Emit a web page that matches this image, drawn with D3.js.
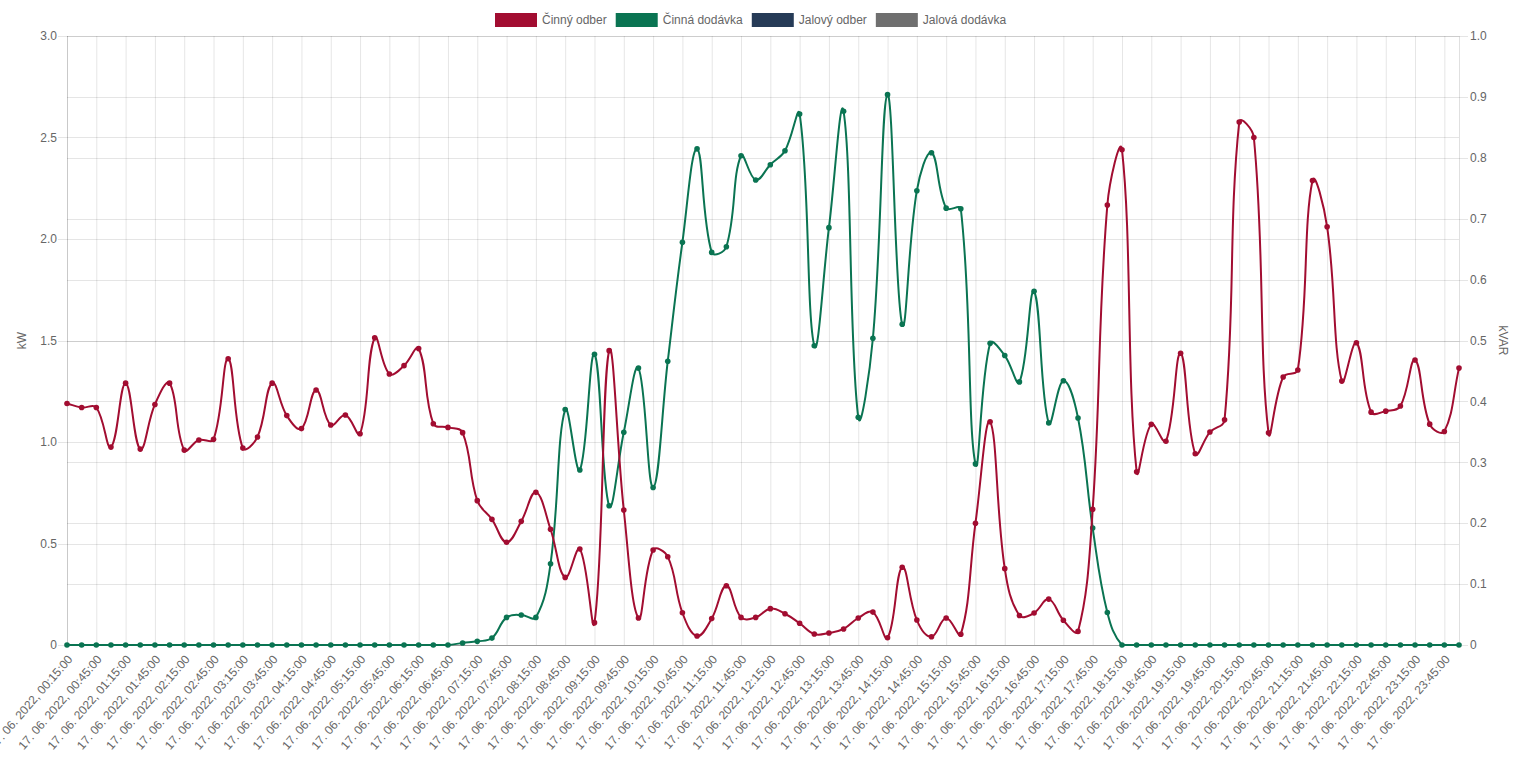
<!DOCTYPE html>
<html><head><meta charset="utf-8">
<script src="https://cdn.jsdelivr.net/npm/d3@7"></script>
<style>
html,body{margin:0;padding:0;background:#fff;}
svg{display:block;font-family:"Liberation Sans",Arial,Helvetica,sans-serif;}
</style></head>
<body>
<svg id="chart" width="1514" height="763"></svg>
<script>
// ---------- data ----------
const datePrefix = "17. 06. 2022, ";
const times = ["00:15","00:30","00:45","01:00","01:15","01:30","01:45","02:00","02:15","02:30","02:45","03:00",
"03:15","03:30","03:45","04:00","04:15","04:30","04:45","05:00","05:15","05:30","05:45","06:00",
"06:15","06:30","06:45","07:00","07:15","07:30","07:45","08:00","08:15","08:30","08:45","09:00",
"09:15","09:30","09:45","10:00","10:15","10:30","10:45","11:00","11:15","11:30","11:45","12:00",
"12:15","12:30","12:45","13:00","13:15","13:30","13:45","14:00","14:15","14:30","14:45","15:00",
"15:15","15:30","15:45","16:00","16:15","16:30","16:45","17:00","17:15","17:30","17:45","18:00",
"18:15","18:30","18:45","19:00","19:15","19:30","19:45","20:00","20:15","20:30","20:45","21:00",
"21:15","21:30","21:45","22:00","22:15","22:30","22:45","23:00","23:15","23:30","23:45","24:00"];

const cinnyOdber = [1.19,1.17,1.17,0.975,1.29,0.965,1.185,1.29,0.96,1.01,
1.013,1.41,0.97,1.025,1.29,1.13,1.066,1.256,1.084,1.133,
1.041,1.513,1.335,1.376,1.46,1.09,1.072,1.046,0.711,0.619,
0.506,0.609,0.752,0.57,0.333,0.473,0.11,1.45,0.665,0.133,
0.468,0.435,0.159,0.044,0.13,0.292,0.136,0.136,0.179,0.154,
0.107,0.054,0.059,0.079,0.133,0.162,0.036,0.383,0.123,0.041,
0.133,0.053,0.6,1.10,0.376,0.145,0.158,0.226,0.122,0.067,
0.669,2.167,2.44,0.853,1.087,1.004,1.437,0.942,1.049,1.109,
2.576,2.5,1.045,1.32,1.355,2.288,2.06,1.30,1.489,1.147,
1.152,1.177,1.404,1.088,1.052,1.364];

const cinnaDodavka = [0,0,0,0,0,0,0,0,0,0,
0,0,0,0,0,0,0,0,0,0,
0,0,0,0,0,0,0,0.01,0.018,0.034,
0.136,0.148,0.136,0.40,1.16,0.862,1.432,0.686,1.048,1.364,
0.776,1.398,1.984,2.444,1.934,1.962,2.41,2.291,2.366,2.435,
2.616,1.474,2.056,2.629,1.122,1.511,2.711,1.58,2.238,2.425,
2.152,2.149,0.892,1.486,1.426,1.296,1.742,1.094,1.302,1.118,
0.576,0.16,0,0,0,0,0,0,0,0,
0,0,0,0,0,0,0,0,0,0,
0,0,0,0,0,0];

const jalovyOdber = [];
const jalovaDodavka = [];

const seriesNames = ["Činný odber","Činná dodávka","Jalový odber","Jalová dodávka"];
const seriesColors = ["#a20d31","#0a7452","#263b57","#6f6f6f"];
const leftTicks = [0,0.5,1.0,1.5,2.0,2.5,3.0];
const rightTicks = [0,0.1,0.2,0.3,0.4,0.5,0.6,0.7,0.8,0.9,1.0];
const leftTitle = "kW", rightTitle = "kVAR";

// ---------- layout ----------
const area = {left:67, right:1459, top:36, bottom:645};
const svg = d3.select("#chart");
const txt = "#666";

const x = d3.scalePoint().domain(times).range([area.left, area.right]);
const yL = d3.scaleLinear().domain([0,3]).range([area.bottom, area.top]);
const yR = d3.scaleLinear().domain([0,1]).range([area.bottom, area.top]);
const fmt = v => v === 0 ? "0" : d3.format(".1f")(v);

const shownTimes = times.filter((t,i) => i % 2 === 0);

// grid: vertical
const grid = svg.append("g");
grid.selectAll("line.v").data(shownTimes).join("line")
  .attr("x1", d => x(d)+0.5).attr("x2", d => x(d)+0.5)
  .attr("y1", area.top).attr("y2", area.bottom)
  .attr("stroke","rgba(0,0,0,0.1)");
// right border
grid.append("line").attr("x1",area.right+0.5).attr("x2",area.right+0.5)
  .attr("y1",area.top).attr("y2",area.bottom).attr("stroke","rgba(0,0,0,0.12)");
// left axis gridlines (with ticks)
grid.selectAll("line.l").data(leftTicks).join("line")
  .attr("x1", area.left-9).attr("x2", area.right)
  .attr("y1", d => Math.round(yL(d))+0.5).attr("y2", d => Math.round(yL(d))+0.5)
  .attr("stroke","rgba(0,0,0,0.1)");
// right axis gridlines (with ticks)
grid.selectAll("line.r").data(rightTicks).join("line")
  .attr("x1", area.left).attr("x2", area.right+9)
  .attr("y1", d => Math.round(yR(d))+0.5).attr("y2", d => Math.round(yR(d))+0.5)
  .attr("stroke","rgba(0,0,0,0.1)");
// left border
grid.append("line").attr("x1",area.left+0.5).attr("x2",area.left+0.5)
  .attr("y1",area.top).attr("y2",area.bottom).attr("stroke","rgba(0,0,0,0.12)");
// bottom line
grid.append("line").attr("x1",area.left).attr("x2",area.right)
  .attr("y1",area.bottom+0.5).attr("y2",area.bottom+0.5).attr("stroke","rgba(0,0,0,0.25)");

// left tick labels
svg.append("g").selectAll("text").data(leftTicks).join("text")
  .attr("x", area.left-10).attr("y", d => yL(d)).attr("dy","0.35em")
  .attr("text-anchor","end").attr("font-size",12).attr("fill",txt).text(fmt);
// right tick labels
svg.append("g").selectAll("text").data(rightTicks).join("text")
  .attr("x", area.right+11).attr("y", d => yR(d)).attr("dy","0.35em")
  .attr("text-anchor","start").attr("font-size",12).attr("fill",txt).text(fmt);

// x labels
svg.append("g").selectAll("text").data(shownTimes).join("text")
  .attr("transform", d => `translate(${x(d)+3},${area.bottom+12}) rotate(-49)`)
  .attr("text-anchor","end").attr("dy","0.35em")
  .attr("font-size",12).attr("fill",txt).text(d => datePrefix + d + ":00");

// axis titles
svg.append("text").attr("transform",`translate(26,${(area.top+area.bottom)/2}) rotate(-90)`)
  .attr("text-anchor","middle").attr("font-size",12).attr("fill",txt).text(leftTitle);
svg.append("text").attr("transform",`translate(1499,${(area.top+area.bottom)/2}) rotate(90)`)
  .attr("text-anchor","middle").attr("font-size",12).attr("fill",txt).text(rightTitle);

// Chart.js-like spline curve (tension 0.4, control points capped to chart area)
function chartjsCurve(tension, a){
  return function(context){
    let pts;
    return {
      areaStart(){}, areaEnd(){},
      lineStart(){ pts = []; },
      point(px,py){ pts.push({x:+px,y:+py}); },
      lineEnd(){
        const n = pts.length; if(!n) return;
        const cl = (v,lo,hi) => Math.max(lo, Math.min(hi, v));
        const cps = pts.map((p,i) => {
          const pr = pts[Math.max(i-1,0)], nx = pts[Math.min(i+1,n-1)];
          const d01 = Math.hypot(p.x-pr.x, p.y-pr.y), d12 = Math.hypot(nx.x-p.x, nx.y-p.y);
          let s01 = d01/(d01+d12), s12 = d12/(d01+d12);
          if (isNaN(s01)) s01 = 0; if (isNaN(s12)) s12 = 0;
          const fa = tension*s01, fb = tension*s12;
          return {
            px: cl(p.x - fa*(nx.x-pr.x), a.left, a.right),
            py: cl(p.y - fa*(nx.y-pr.y), a.top, a.bottom),
            nx: cl(p.x + fb*(nx.x-pr.x), a.left, a.right),
            ny: cl(p.y + fb*(nx.y-pr.y), a.top, a.bottom)
          };
        });
        context.moveTo(pts[0].x, pts[0].y);
        for (let i=1;i<n;i++){
          context.bezierCurveTo(cps[i-1].nx, cps[i-1].ny, cps[i].px, cps[i].py, pts[i].x, pts[i].y);
        }
      }
    };
  };
}

const datasets = [
  {values: cinnyOdber, color: seriesColors[0], y: yL},
  {values: cinnaDodavka, color: seriesColors[1], y: yL},
  {values: jalovyOdber, color: seriesColors[2], y: yR},
  {values: jalovaDodavka, color: seriesColors[3], y: yR}
];

const plot = svg.append("g");
// draw last dataset first so the first is on top
datasets.slice().reverse().forEach(ds => {
  if (!ds.values.length) return;
  const line = d3.line()
    .x((d,i) => x(times[i]))
    .y(d => ds.y(d))
    .curve(chartjsCurve(0.4, area));
  const g = plot.append("g");
  g.append("path").attr("d", line(ds.values)).attr("fill","none")
    .attr("stroke", ds.color).attr("stroke-width", 2);
  g.selectAll("circle").data(ds.values).join("circle")
    .attr("cx", (d,i) => x(times[i])).attr("cy", d => ds.y(d))
    .attr("r", 2.8).attr("fill", ds.color);
});

// legend (Chart.js style: 40x12 box with 2px border, label at box+46, 10px item padding)
const lg = svg.append("g");
let lx = 496;
seriesNames.forEach((name,i) => {
  lg.append("rect").attr("x", lx).attr("y", 14).attr("width", 40).attr("height", 12)
    .attr("fill", seriesColors[i]).attr("stroke", seriesColors[i]).attr("stroke-width", 2);
  const t = lg.append("text").attr("x", lx+46).attr("y", 24)
    .attr("font-size",12).attr("fill",txt).text(name);
  lx += 46 + t.node().getComputedTextLength() + 10;
});
</script>
</body></html>
